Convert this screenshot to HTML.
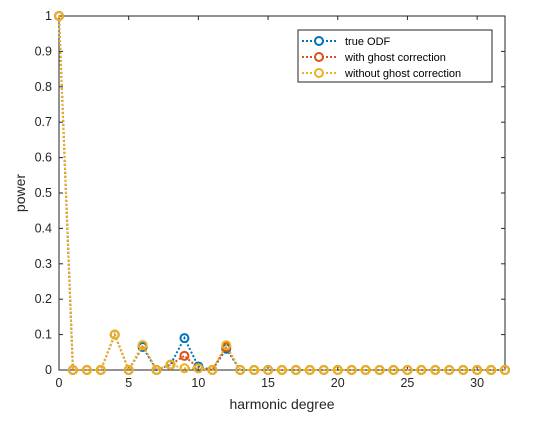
<!DOCTYPE html>
<html><head><style>body{margin:0;background:#fff}svg{font-family:"Liberation Sans",sans-serif}</style></head>
<body>
<svg id="c" width="560" height="420"></svg>
<script>
const degrees=[...Array(33).keys()];
const trueOdf=[1,0,0,0,0.1,0,0.065,0,0.015,0.09,0.01,0,0.06,0,0,0,0,0,0,0,0,0,0,0,0,0,0,0,0,0,0,0,0];
const withGhost=[1,0,0,0,0.1,0,0.07,0,0.015,0.04,0.005,0,0.065,0,0,0,0,0,0,0,0,0,0,0,0,0,0,0,0,0,0,0,0];
const withoutGhost=[1,0,0,0,0.1,0,0.07,0,0.015,0.005,0.005,0,0.07,0,0,0,0,0,0,0,0,0,0,0,0,0,0,0,0,0,0,0,0];
const xTicks=[0,5,10,15,20,25,30];
const yTicks=[0,0.1,0.2,0.3,0.4,0.5,0.6,0.7,0.8,0.9,1];
const seriesNames=["true ODF","with ghost correction","without ghost correction"];
const colors=["#0072BD","#D95319","#EDB120"];
const L=59,R=505,T=16,B=370;
const sx=v=>L+v/32*(R-L), sy=v=>B-v*(B-T);
const svg=document.getElementById('c');const NS="http://www.w3.org/2000/svg";
function mk(t,a,p){const e=document.createElementNS(NS,t);for(const k in a)e.setAttribute(k,a[k]);(p||svg).appendChild(e);return e;}
let e=mk('rect',{x:L,y:T,width:R-L,height:B-T,fill:'#fff',stroke:'#262626','stroke-width':1});


xTicks.forEach(v=>{const x=sx(v);mk('line',{x1:x,x2:x,y1:B,y2:B-4,stroke:'#262626'});mk('line',{x1:x,x2:x,y1:T,y2:T+4,stroke:'#262626'});
const t=mk('text',{x:x,y:B+17,'text-anchor':'middle','font-size':12.5,fill:'#262626'});t.textContent=v;

});
yTicks.forEach(v=>{const y=sy(v);mk('line',{x1:L,x2:L+4,y1:y,y2:y,stroke:'#262626'});mk('line',{x1:R,x2:R-4,y1:y,y2:y,stroke:'#262626'});
const t=mk('text',{x:L-7,y:y+4,'text-anchor':'end','font-size':12.5,fill:'#262626'});t.textContent=v;

});
let xl=mk('text',{x:(L+R)/2,y:409,'text-anchor':'middle','font-size':14,fill:'#262626'});xl.textContent='harmonic degree';


let yl=mk('text',{x:0,y:0,'text-anchor':'middle','font-size':14,fill:'#262626',transform:`translate(25,${(T+B)/2}) rotate(-90)`});yl.textContent='power';


[trueOdf,withGhost,withoutGhost].forEach((s,i)=>{const g=mk('g',{});


mk('polyline',{points:s.map((v,j)=>sx(degrees[j])+','+sy(v)).join(' '),fill:'none',stroke:colors[i],'stroke-width':2,'stroke-dasharray':'2 2'},g);
s.forEach((v,j)=>{const m=mk('circle',{cx:sx(degrees[j]),cy:sy(v),r:4,fill:'none',stroke:colors[i],'stroke-width':2},g);

});});
const lg=mk('g',{});


mk('rect',{x:298,y:30,width:194,height:52,fill:'#fff',stroke:'#262626'},lg);
seriesNames.forEach((n,i)=>{const y=41+i*16;
mk('line',{x1:302,x2:336,y1:y,y2:y,stroke:colors[i],'stroke-width':2,'stroke-dasharray':'2 2'},lg);
mk('circle',{cx:319,cy:y,r:4,fill:'#fff',stroke:colors[i],'stroke-width':2},lg);
const t=mk('text',{x:345,y:y+4,'font-size':11,fill:'#000'},lg);t.textContent=n;

});
</script>
</body></html>
